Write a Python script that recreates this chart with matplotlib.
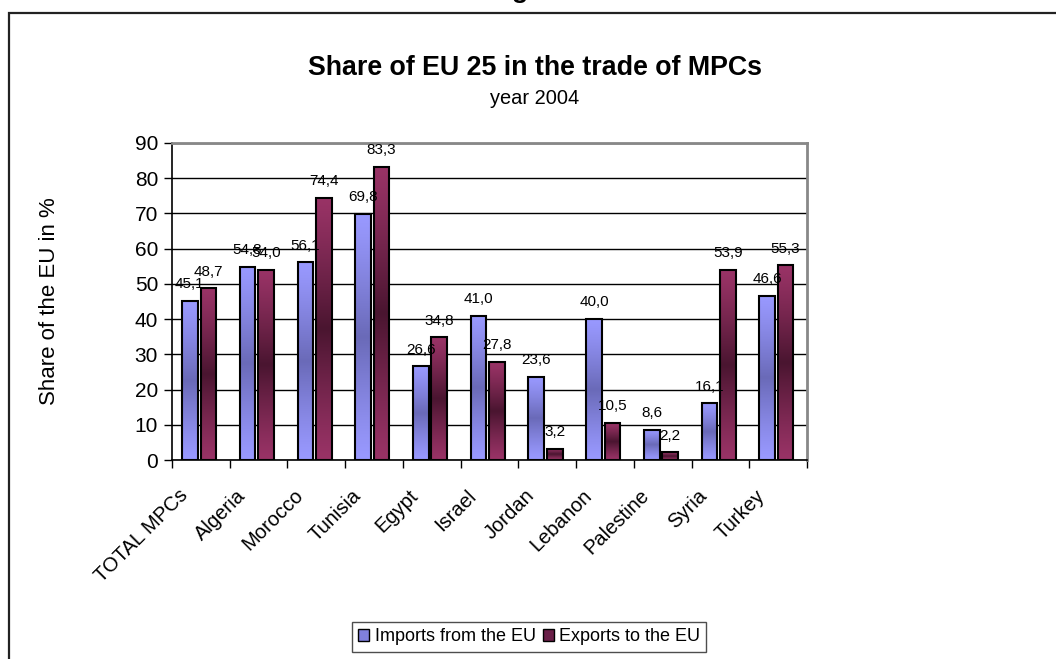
import numpy as np
import matplotlib
matplotlib.use("Agg")
import matplotlib.pyplot as plt
import matplotlib.transforms as mtransforms
from matplotlib.colors import to_rgb
from matplotlib.patches import Rectangle, Patch

categories = ["TOTAL MPCs", "Algeria", "Morocco", "Tunisia", "Egypt", "Israel",
              "Jordan", "Lebanon", "Palestine", "Syria", "Turkey"]
imports_eu = [45.1, 54.8, 56.1, 69.8, 26.6, 41.0, 23.6, 40.0, 8.6, 16.1, 46.6]
exports_eu = [48.7, 54.0, 74.4, 83.3, 34.8, 27.8, 3.2, 10.5, 2.2, 53.9, 55.3]
series_names = ["Imports from the EU", "Exports to the EU"]
yticks = [0, 10, 20, 30, 40, 50, 60, 70, 80, 90]

plt.rcParams['font.family'] = ['Liberation Sans', 'DejaVu Sans']

fig = plt.figure(figsize=(10.56, 6.59), dpi=100)
ax = fig.add_axes([172/1056, 1-460/659, (807-172)/1056, (460-143)/659])

# outer frame
fig.patches.append(Rectangle((9/1056, -0.1), 1.2, 1 - 13/659 + 0.1, transform=fig.transFigure,
                             fill=False, edgecolor='#222222', linewidth=1.6, zorder=0))
fig.text(0.492, 1.014, "g", ha='center', va='center', fontsize=19, fontweight='bold')

def gradient_bars(ax, xs, heights, width, light, dark):
    c1 = np.array(to_rgb(light)); c2 = np.array(to_rgb(dark))
    t = np.linspace(0, 1, 200)
    w = 1 - np.abs(2 * t - 1)  # 0 at edges, 1 at center
    w = w ** 1.2
    img = (c1[None, :] * (1 - w[:, None]) + c2[None, :] * w[:, None])[:, None, :]
    bars = ax.bar(xs, heights, width=width, facecolor='none', edgecolor='black',
                  linewidth=1.5, zorder=3)
    for b in bars:
        x0, y0 = b.get_x(), b.get_y()
        im = ax.imshow(img, extent=(x0, x0 + b.get_width(), y0, y0 + b.get_height()),
                       aspect='auto', origin='lower', zorder=2, interpolation='bilinear')
        im.set_clip_path(b)
    return bars

x = np.arange(len(categories))
w = 0.27
xi = x - 0.19
xe = x + 0.13
gradient_bars(ax, xi, imports_eu, w, '#9999FF', '#6A6AB8')
gradient_bars(ax, xe, exports_eu, w, '#993366', '#4A1530')

for xs, vals in ((xi, imports_eu), (xe, exports_eu)):
    for xv, v in zip(xs, vals):
        ax.annotate(f"{v:.1f}".replace('.', ','), (xv, v), xytext=(0, 12),
                    textcoords='offset points', ha='center', va='center', fontsize=11,
                    zorder=5)

ax.set_xlim(-0.5, len(categories) - 0.5)
ax.set_ylim(0, 90)
ax.set_yticks(yticks)
ax.set_yticklabels([str(t) for t in yticks], fontsize=15)
ax.yaxis.grid(True, color='black', linewidth=1.0, zorder=1)
ax.set_axisbelow(True)
ax.set_xticks(np.arange(len(categories) + 1) - 0.5)
ax.set_xticklabels([])
# category labels, rotated 45 degrees, placed below the axis
off = mtransforms.ScaledTranslation(-23/100, -26/100, fig.dpi_scale_trans)
ltrans = ax.get_xaxis_transform() + off
for xv, cat in zip(x, categories):
    ax.text(xv, 0, cat, transform=ltrans, rotation=45, ha='right', va='top',
            rotation_mode='anchor', fontsize=14.5, clip_on=False)
ax.tick_params(axis='x', length=6, width=1, direction='out')
ax.tick_params(axis='y', length=6, width=1, direction='out', pad=4)
for s in ('left', 'bottom'):
    ax.spines[s].set_color('black'); ax.spines[s].set_linewidth(1.2)
for s in ('top', 'right'):
    ax.spines[s].set_color('#888888'); ax.spines[s].set_linewidth(2)
ax.set_ylabel("Share of the EU in %", fontsize=16)
ax.yaxis.set_label_coords((60-172)/635, 0.5)

fig.text(535/1056, 1-68/659, "Share of EU 25 in the trade of MPCs", ha='center',
         va='center', fontsize=19.3, fontweight='bold')
fig.text(535/1056, 1-98/659, "year 2004", ha='center', va='center', fontsize=14.4)

handles = [Patch(facecolor='#8080DD', edgecolor='black', linewidth=1),
           Patch(facecolor='#6A1F48', edgecolor='black', linewidth=1)]
leg = fig.legend(handles, series_names, loc='upper left',
                 bbox_to_anchor=(352/1056, 1-622/659), ncol=2, fontsize=13,
                 frameon=True, fancybox=False, handlelength=0.6, handleheight=0.6,
                 handletextpad=0.3, columnspacing=0.4, borderpad=0.35,
                 borderaxespad=0)
leg.get_frame().set_edgecolor('#222222')
leg.get_frame().set_linewidth(1.0)

fig.savefig("out.png", dpi=100)
